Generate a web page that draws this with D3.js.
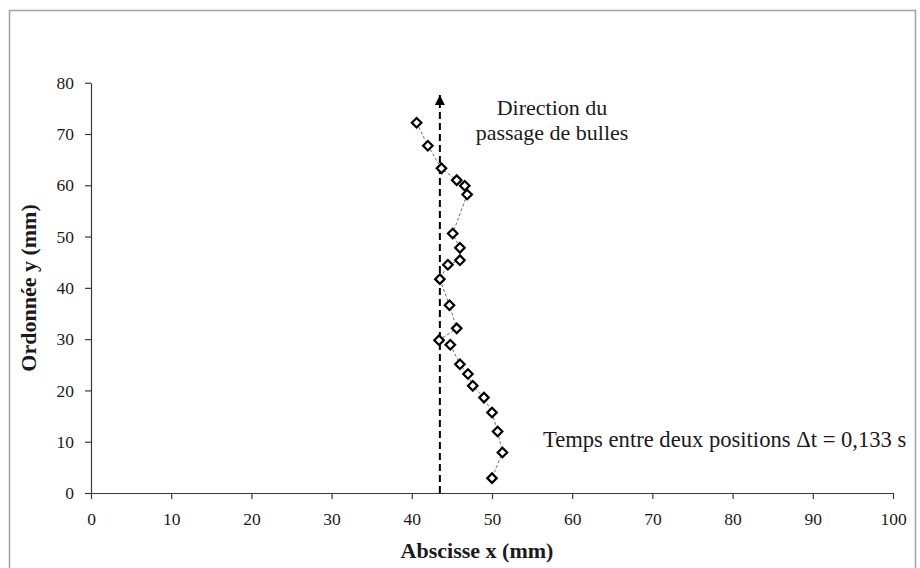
<!DOCTYPE html>
<html>
<head>
<meta charset="utf-8">
<script src="https://cdn.jsdelivr.net/npm/d3@7"></script>
<style>
  html, body { margin: 0; padding: 0; background: #fff; }
  svg { display: block; }
  text { font-family: "Liberation Serif", "Times New Roman", serif; fill: #1a1a1a; }
</style>
</head>
<body>
<svg id="chart" width="920" height="568"></svg>
<script>
// ---- data ----
const xValues = [40.6, 42.0, 43.7, 45.6, 46.6, 46.9, 45.1, 46.0, 46.0, 44.5, 43.5, 44.7, 45.6, 43.4, 44.8, 46.0, 47.0, 47.6, 49.0, 50.0, 50.7, 51.3, 50.0];
const yValues = [72.2, 67.7, 63.3, 61.0, 59.9, 58.2, 50.6, 47.8, 45.4, 44.5, 41.7, 36.6, 32.1, 29.8, 28.9, 25.1, 23.2, 20.9, 18.6, 15.7, 12.0, 7.9, 2.9];
const xTicks = [0, 10, 20, 30, 40, 50, 60, 70, 80, 90, 100];
const yTicks = [0, 10, 20, 30, 40, 50, 60, 70, 80];
const arrowX = [43.5];
const arrowY = [0, 77.6];
const xTitle = "Abscisse x (mm)";
const yTitle = "Ordonnée y (mm)";
const noteDirection = ["Direction du", "passage de bulles"];
const noteTime = "Temps entre deux positions Δt = 0,133 s";

// ---- layout ----
const svg = d3.select("#chart");
const x = d3.scaleLinear().domain([0, 100]).range([91, 893]);
const y = d3.scaleLinear().domain([0, 80]).range([493, 82.7]);

// outer border
svg.append("rect")
  .attr("x", 9.5).attr("y", 10.5)
  .attr("width", 906).attr("height", 570)
  .attr("fill", "none").attr("stroke", "#a6a6a6").attr("stroke-width", 1.6);

// axes
const axisColor = "#3a3a3a";
const xAxis = svg.append("g")
  .attr("transform", `translate(0,${y(0)})`)
  .call(d3.axisBottom(x).tickValues(xTicks).tickSize(6).tickPadding(14).tickSizeOuter(0));
const yAxis = svg.append("g")
  .attr("transform", `translate(${x(0)},0)`)
  .call(d3.axisLeft(y).tickValues(yTicks).tickSize(6).tickPadding(11).tickSizeOuter(0));
[xAxis, yAxis].forEach(g => {
  g.select(".domain").attr("stroke", axisColor).attr("stroke-width", 1.2);
  g.selectAll(".tick line").attr("stroke", axisColor).attr("stroke-width", 1.2);
  g.selectAll(".tick text")
    .style("font-family", '"Liberation Serif", "Times New Roman", serif')
    .style("font-size", "17.5px").attr("fill", "#1a1a1a");
});

// axis titles
svg.append("text")
  .attr("x", 477).attr("y", 558)
  .attr("text-anchor", "middle")
  .style("font-size", "22px").style("font-weight", "bold")
  .text(xTitle);
svg.append("text")
  .attr("transform", "translate(36,288) rotate(-90)")
  .attr("text-anchor", "middle")
  .style("font-size", "22px").style("font-weight", "bold")
  .text(yTitle);

// direction arrow
svg.append("defs").append("marker")
  .attr("id", "arrowhead")
  .attr("viewBox", "0 0 10 10")
  .attr("refX", 10).attr("refY", 5)
  .attr("markerWidth", 11).attr("markerHeight", 10)
  .attr("markerUnits", "userSpaceOnUse")
  .attr("orient", "auto")
  .append("path").attr("d", "M0,0 L10,5 L0,10 Z").attr("fill", "#000");
svg.append("line")
  .attr("x1", x(arrowX[0])).attr("x2", x(arrowX[0]))
  .attr("y1", y(arrowY[0])).attr("y2", y(arrowY[1]))
  .attr("stroke", "#000").attr("stroke-width", 2)
  .attr("stroke-dasharray", "7,4")
  .attr("marker-end", "url(#arrowhead)");

// data line
const pts = xValues.map((v, i) => [v, yValues[i]]);
svg.append("path")
  .datum(pts)
  .attr("fill", "none")
  .attr("stroke", "#6e6e6e").attr("stroke-width", 1)
  .attr("stroke-dasharray", "3,2")
  .attr("d", d3.line().x(d => x(d[0])).y(d => y(d[1])));

// diamond markers
const diamond = d3.symbol().type(d3.symbolDiamond2).size(58);
svg.append("g").selectAll("path")
  .data(pts).join("path")
  .attr("transform", d => `translate(${x(d[0])},${y(d[1])})`)
  .attr("d", diamond)
  .attr("fill", "#fff").attr("stroke", "#000").attr("stroke-width", 2.2);

// annotations
const dir = svg.append("text")
  .attr("text-anchor", "middle")
  .style("font-size", "22px");
dir.append("tspan").attr("x", 552).attr("y", 115).text(noteDirection[0]);
dir.append("tspan").attr("x", 552).attr("y", 140).text(noteDirection[1]);

svg.append("text")
  .attr("x", 543).attr("y", 447)
  .style("font-size", "22.6px")
  .text(noteTime);
</script>
</body>
</html>
